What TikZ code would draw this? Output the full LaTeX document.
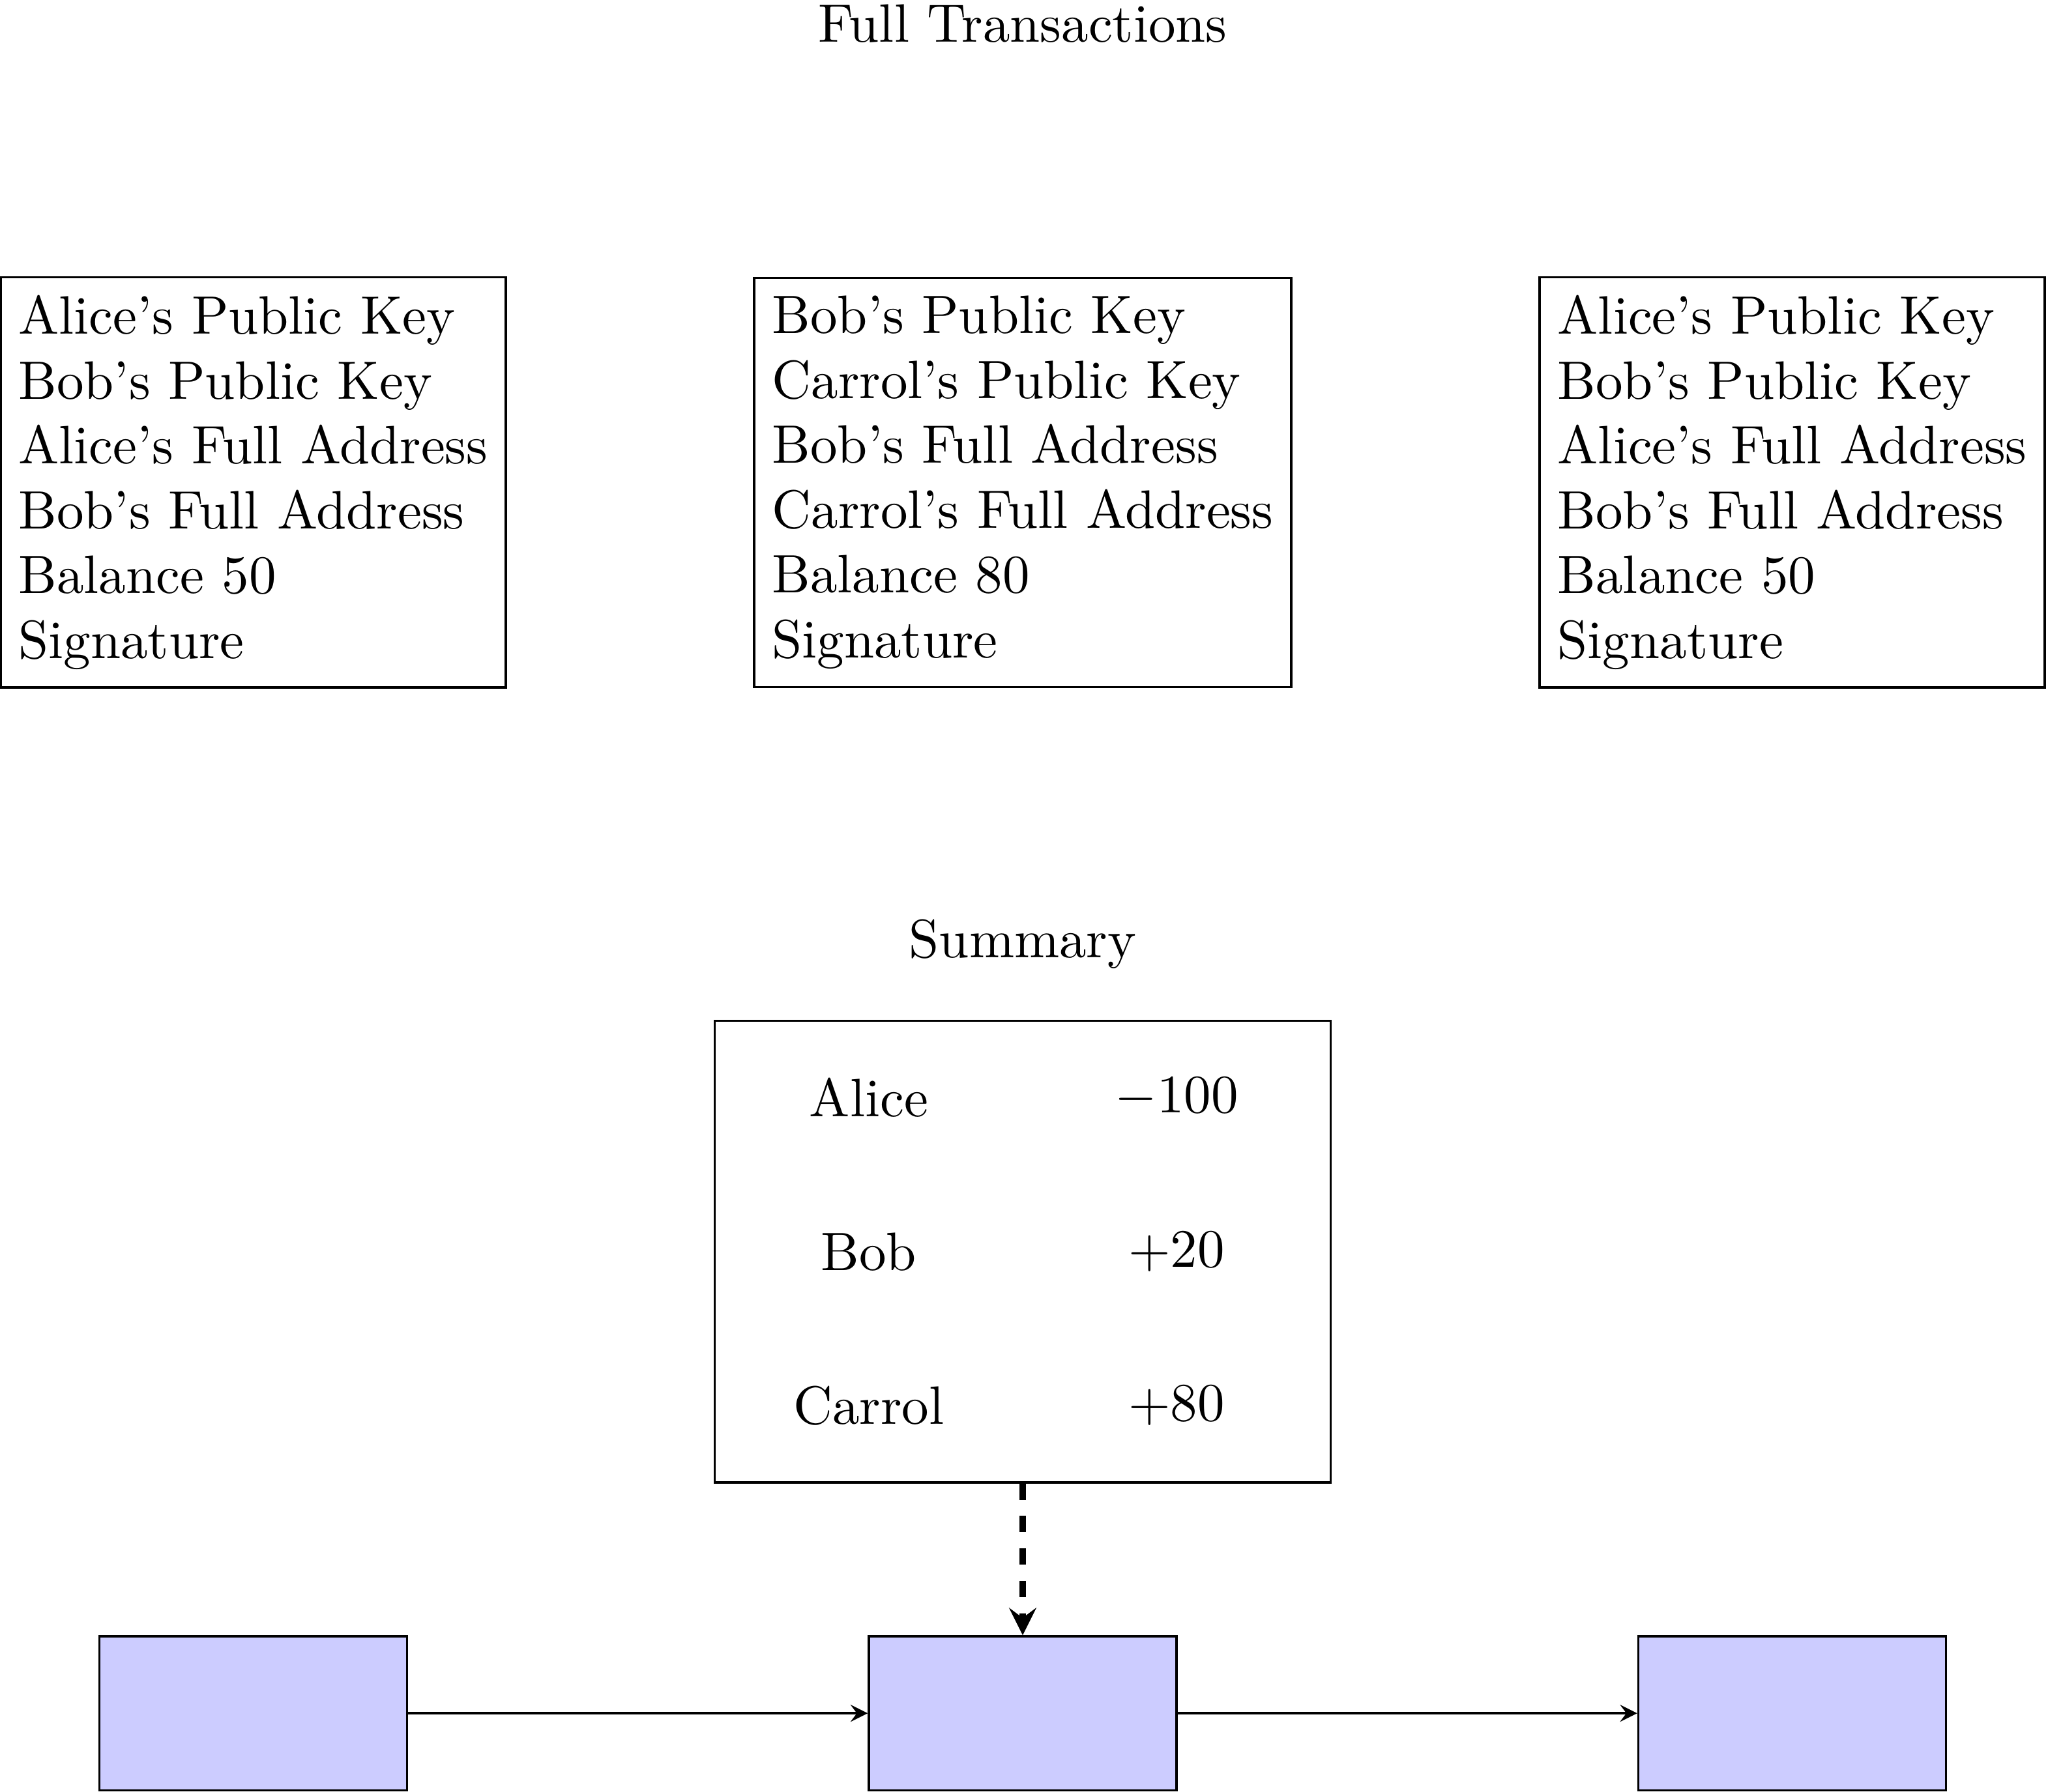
\documentclass[tikz,border=0pt]{standalone}
\usetikzlibrary{shapes, arrows, positioning, calc}

\begin{document}
\begin{tikzpicture}[>=stealth]

\useasboundingbox (-6.645, -0.509) rectangle (6.662, 11.135);

\node (fulltitle) at (0, 10.98) {Full Transactions};

\node [draw, align=left] (tx1) at (-5, 8) {Alice's Public Key\\ Bob's Public Key\\ Alice's Full Address\\ Bob's Full Address\\ Balance 50\\ Signature};
\node [draw, align=left] (tx2) at (0, 8) {Bob's Public Key\\ Carrol's Public Key\\ Bob's Full Address\\ Carrol's Full Address\\ Balance 80\\ Signature};
\node [draw, align=left] (tx3) at (5, 8) {Alice's Public Key\\ Bob's Public Key\\ Alice's Full Address\\ Bob's Full Address\\ Balance 50\\ Signature};

\node (sumtitle) at (0, 5) {Summary};
\node [draw, minimum width=4cm, minimum height=3cm] (summary) at (0, 3) {};
\node (alice) at (-1, 4) {Alice};   \node (aliceval) at (1, 4) {$-100$};
\node (bob) at (-1, 3) {Bob};       \node (bobval) at (1, 3) {$+20$};
\node (carrol) at (-1, 2) {Carrol}; \node (carrolval) at (1, 2) {$+80$};

\node [draw, fill=blue!20, minimum width=2cm, minimum height=1cm] (block1) at (-5, 0) {};
\node [draw, fill=blue!20, minimum width=2cm, minimum height=1cm] (block2) at (0, 0) {};
\node [draw, fill=blue!20, minimum width=2cm, minimum height=1cm] (block3) at (5, 0) {};

\draw [->] (block1) -- (block2);
\draw [->] (block2) -- (block3);
\draw [->, very thick, dashed] (summary) -- (block2);

\end{tikzpicture}
\end{document}
